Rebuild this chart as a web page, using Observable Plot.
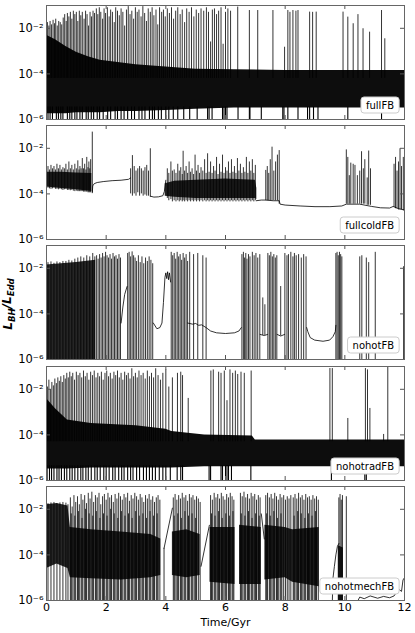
<!DOCTYPE html>
<html><head><meta charset="utf-8">
<script src="https://cdn.jsdelivr.net/npm/d3@7"></script>
<script src="https://cdn.jsdelivr.net/npm/@observablehq/plot@0.6"></script>
<style>
body{margin:0;background:#fff;}
#chart{position:relative;width:415px;height:633px;font-family:"DejaVu Sans",sans-serif;}
#chart svg{position:absolute;left:0;overflow:visible;}
</style></head><body><div id="chart"></div><script>
// ---------- categories / ticks ----------
const panels = ["fullFB","fullcoldFB","nohotFB","nohotradFB","nohotmechFB"];
const xTicks = [0,2,4,6,8,10,12];
const yTicks = [1e-6,1e-4,1e-2];
const xDomain = [0,12];
const yDomain = [1e-6,1e-1];
const xLabel = "Time/Gyr";

// ---------- data (time in Gyr, values as log10 L_BH/L_Edd) ----------
// fullFB
const fullFB_band = [[0,-5.75,-2.3],[0.3,-5.75,-2.5],[0.65,-5.75,-2.8],[1.0,-5.7,-3.05],[1.4,-5.7,-3.25],[1.8,-5.7,-3.4],[2.4,-5.65,-3.5],[3.0,-5.65,-3.6],[4.0,-5.6,-3.7],[5.0,-5.55,-3.8],[6.3,-5.5,-3.82],[8.0,-5.5,-3.85],[10.0,-5.5,-3.85],[12.0,-5.5,-3.85]];
const fullFB_upBase = -4.2;
const fullFB_up = [[0.03,-1.75],[0.08,-1.9],[0.12,-1.7],[0.17,-1.85],[0.22,-1.65],[0.27,-1.8],[0.31,-1.6],[0.36,-1.9],[0.41,-1.7],[0.46,-1.75],[0.51,-1.85],[0.56,-1.55],[0.61,-1.4],[0.66,-1.7],[0.70,-1.35],[0.75,-1.5],[0.80,-1.3],[0.85,-1.6],[0.90,-1.25],[0.95,-1.4],[1.00,-1.3],[1.05,-1.7],[1.10,-1.25],[1.15,-1.45],[1.20,-1.3],[1.26,-1.6],[1.31,-1.25],[1.36,-1.4],[1.41,-1.9],[1.46,-1.3],[1.51,-1.5],[1.56,-1.25],[1.61,-1.35],[1.67,-1.15],[1.72,-1.4],[1.77,-1.1],[1.82,-1.3],[1.88,-1.6],[1.93,-1.15],[1.98,-1.35],[2.04,-1.1],[2.10,-1.5],[2.15,-1.2],[2.21,-1.3],[2.27,-1.75],[2.32,-1.1],[2.38,-1.25],[2.44,-1.45],[2.50,-1.15],[2.56,-1.3],[2.62,-1.9],[2.68,-1.2],[2.74,-1.05],[2.80,-1.4],[2.86,-1.25],[2.92,-1.6],[2.98,-1.1],[3.04,-1.3],[3.10,-1.2],[3.17,-1.5],[3.23,-1.05],[3.29,-1.35],[3.35,-1.7],[3.41,-1.15],[3.48,-1.3],[3.54,-1.1],[3.60,-1.45],[3.67,-1.2],[3.73,-1.85],[3.79,-1.1],[3.86,-1.3],[3.92,-1.2],[3.98,-1.5],[4.05,-1.15],[4.12,-1.35],[4.19,-1.1],[4.26,-1.6],[4.33,-1.25],[4.40,-1.1],[4.48,-1.4],[4.55,-1.2],[4.63,-1.75],[4.70,-1.15],[4.78,-1.3],[4.86,-1.1],[4.94,-1.5],[5.02,-1.2],[5.10,-1.35],[5.18,-1.15],[5.27,-1.25],[5.36,-1.1],[5.43,-1.3],[5.50,-2.6],[5.56,-1.2],[5.63,-1.15],[5.70,-1.4],[5.77,-1.25],[5.85,-1.1],[5.92,-2.7],[6.00,-1.3],[6.08,-1.15],[6.17,-1.25],[6.41,-1.07],[6.80,-1.22],[7.08,-1.22],[7.59,-1.22],[7.98,-2.83],[8.09,-1.22],[8.16,-1.3],[8.26,-1.22],[8.36,-1.25],[8.43,-1.22],[8.82,-1.29],[8.92,-1.3],[9.04,-1.29],[9.94,-1.29],[10.10,-1.51],[10.28,-1.8],[10.44,-1.4],[10.61,-2.02],[10.83,-2.17],[11.23,-1.22],[11.34,-2.46]];
const fullFB_dipTop = -5.45;
const fullFB_dips = [0.05,0.12,0.2,0.33,0.4,0.48,0.55,0.7,0.78,0.85,0.95,1.02,1.12,1.2,1.33,1.4,1.5,1.58,1.7,1.78,1.9,2.05,2.15,2.3,2.38,2.5,2.6,2.72,2.85,2.95,3.1,3.2,3.3,3.45,3.55,3.62,3.75,3.85,4.0,4.1,4.25,4.4,4.6,4.8,5.05,5.4,5.45,5.55,5.9,5.95,6.0,6.05,6.42,6.8,6.82,7.2,7.92,7.96,8.09,8.43,8.75,8.82,8.95,9.1,10.1,11.23];

// fullcoldFB
const fullcoldFB_band = [[0,-3.7,-3.05],[0.5,-3.76,-3.05],[1.0,-3.82,-3.08],[1.52,-3.9,-3.1],null,[3.98,-4.1,-3.55],[4.3,-4.15,-3.45],[5.0,-4.2,-3.4],[6.0,-4.2,-3.35],[7.0,-4.2,-3.4],[7.05,-4.25,-3.75]];
const fullcoldFB_seg = [[0.05,-3.75,-2.8],[0.1,-3.78,-2.95],[0.15,-3.8,-2.75],[0.2,-3.78,-2.9],[0.25,-3.75,-2.8],[0.3,-3.8,-2.95],[0.35,-3.8,-2.7],[0.4,-3.82,-2.9],[0.45,-3.8,-2.75],[0.5,-3.82,-2.95],[0.55,-3.85,-2.85],[0.6,-3.82,-2.9],[0.65,-3.8,-2.7],[0.7,-3.85,-2.95],[0.75,-3.85,-2.6],[0.8,-3.86,-2.9],[0.85,-3.85,-2.75],[0.9,-3.88,-2.95],[0.95,-3.9,-2.7],[1.0,-3.88,-2.9],[1.05,-3.9,-2.55],[1.09,-3.9,-2.95],[1.12,-3.9,-2.8],[1.16,-3.9,-2.9],[1.2,-3.9,-2.45],[1.24,-3.92,-2.9],[1.28,-3.92,-2.7],[1.32,-3.92,-2.95],[1.35,-3.92,-2.4],[1.39,-3.95,-2.85],[1.42,-3.95,-2.6],[1.45,-3.95,-2.9],[1.48,-3.95,-2.5],[1.535,-3.95,-1.29],
[2.82,-4.0,-2.9],[2.88,-4.1,-2.32],[2.94,-4.0,-2.8],[3.0,-4.1,-3.0],[3.06,-3.95,-2.9],[3.12,-4.1,-2.8],[3.18,-4.0,-2.9],[3.24,-4.1,-3.0],[3.3,-4.05,-2.85],[3.36,-4.1,-2.75],[3.42,-4.1,-3.0],[3.48,-4.14,-2.02],
[4.05,-4.2,-2.9],[4.1,-4.3,-3.1],[4.17,-4.25,-2.6],[4.22,-4.35,-3.0],[4.28,-4.3,-2.95],[4.34,-4.35,-3.1],[4.4,-4.3,-2.7],[4.45,-4.35,-3.0],[4.5,-4.3,-2.85],[4.55,-4.35,-3.15],[4.58,-4.3,-2.13],[4.63,-4.35,-3.0],[4.68,-4.3,-2.8],[4.73,-4.35,-3.1],[4.78,-4.3,-2.6],[4.83,-4.35,-3.05],[4.88,-4.3,-2.9],[4.93,-4.35,-3.15],[4.98,-4.3,-2.3],[5.03,-4.35,-3.0],[5.08,-4.3,-2.75],[5.13,-4.35,-3.1],[5.18,-4.3,-2.85],[5.24,-4.35,-3.0],[5.3,-4.3,-2.5],[5.35,-4.35,-3.1],[5.4,-4.3,-2.24],[5.45,-4.35,-3.05],[5.5,-4.3,-2.6],[5.55,-4.35,-3.1],[5.6,-4.3,-2.8],[5.65,-4.35,-3.0],[5.7,-4.3,-2.4],[5.75,-4.35,-3.15],[5.8,-4.3,-2.7],[5.85,-4.35,-3.05],[5.9,-4.3,-2.3],[5.95,-4.35,-3.1],[6.0,-4.3,-2.85],[6.05,-4.35,-3.0],[6.1,-4.3,-2.6],[6.15,-4.35,-3.1],[6.2,-4.3,-2.5],[6.25,-4.35,-3.05],[6.3,-4.3,-2.8],[6.35,-4.35,-3.1],[6.4,-4.3,-2.45],[6.45,-4.35,-3.0],[6.5,-4.3,-2.7],[6.55,-4.35,-3.1],[6.6,-4.3,-2.85],[6.65,-4.35,-3.05],[6.7,-4.3,-2.4],[6.75,-4.35,-3.1],[6.8,-4.3,-2.6],[6.85,-4.35,-3.0],[6.9,-4.3,-2.5],[6.95,-4.35,-3.1],[7.0,-4.3,-2.75],
[7.35,-4.3,-2.97],[7.4,-4.3,-2.8],[7.45,-4.3,-3.1],[7.5,-4.3,-2.5],[7.56,-4.3,-1.95],[7.62,-4.3,-3.0],[7.68,-4.3,-2.6],[7.74,-4.3,-2.3],[7.8,-4.45,-2.1],
[10.05,-4.45,-2.07],[10.1,-4.45,-2.4],[10.15,-4.45,-3.2],[10.2,-4.45,-2.65],[10.28,-4.45,-2.7],[10.34,-4.45,-2.75],[10.42,-4.45,-3.2],[10.5,-4.45,-3.0],[10.56,-4.45,-2.15],[10.62,-4.45,-2.9],[10.67,-4.45,-2.5],[10.75,-4.5,-3.3],[10.8,-4.5,-2.12],[10.86,-4.5,-2.9],
[11.65,-4.6,-2.7],[11.7,-4.65,-2.4],[11.75,-4.65,-3.0],[11.8,-4.7,-2.6],[11.85,-4.7,-2.02],[11.9,-4.7,-2.8],[11.96,-4.75,-2.4]];
const fullcoldFB_line = [[1.535,-3.95],[1.55,-3.65],[1.6,-3.55],[1.7,-3.5],[1.9,-3.46],[2.2,-3.42],[2.5,-3.4],[2.75,-3.36],[2.82,-3.3],null,[3.48,-4.1],[3.6,-4.14],[3.75,-4.13],[3.9,-4.08],[3.95,-3.9],[4.0,-3.4],null,[7.03,-4.3],[7.2,-4.27],[7.35,-4.27],[7.6,-4.3],[7.8,-4.3],[7.83,-4.45],[8.0,-4.49],[8.5,-4.53],[9.0,-4.56],[9.5,-4.56],[9.9,-4.53],[10.05,-4.45],[10.5,-4.45],[10.9,-4.55],[11.2,-4.61],[11.5,-4.62],[11.62,-4.55],[11.8,-4.65],[12,-4.7]];

// nohotFB
const nohotFB_band = [[0,-6,-1.85],[0.5,-6,-1.8],[1.0,-6,-1.75],[1.65,-6,-1.65]];
const nohotFB_full = [[0.05,-1.75],[0.15,-1.72],[0.25,-1.78],[0.35,-1.72],[0.45,-1.75],[0.55,-1.7],[0.65,-1.7],[0.75,-1.65],[0.85,-1.68],[0.95,-1.6],[1.05,-1.55],[1.15,-1.5],[1.25,-1.55],[1.35,-1.45],[1.45,-1.5],[1.55,-1.35],[1.62,-1.5],
[1.68,-1.45],[1.73,-1.6],[1.78,-1.4],[1.83,-1.55],[1.88,-1.35],[1.93,-1.5],[1.98,-1.3],[2.03,-1.45],[2.08,-1.55],[2.13,-1.4],[2.18,-1.6],[2.23,-1.35],[2.28,-1.5],[2.33,-1.45],[2.38,-1.6],[2.43,-1.4],[2.48,-1.55],
[2.72,-1.35],[2.77,-1.3],[2.82,-1.5],[2.87,-1.28],[2.92,-1.45],[2.97,-1.55],[3.02,-1.7],[3.08,-1.45],[3.14,-1.75],[3.2,-1.5],[3.26,-1.8],[3.32,-1.55],[3.38,-1.7],[3.44,-1.5],[3.5,-1.65],[3.56,-1.8],
[4.18,-1.3],[4.23,-1.45],[4.28,-1.35],[4.33,-1.6],[4.38,-1.3],[4.43,-1.5],[4.48,-1.4],[4.53,-1.65],[4.58,-1.35],[4.63,-1.55],[4.68,-1.4],[4.73,-1.7],
[4.8,-1.3],[4.93,-1.4],[5.07,-1.35],[5.24,-1.45],[5.35,-1.55],
[6.55,-1.4],[6.6,-1.3],[6.64,-1.55],[6.68,-1.35],[6.72,-1.6],[6.77,-1.4],[6.82,-1.5],
[6.9,-1.3],[6.96,-1.45],[7.02,-1.35],[7.08,-1.55],[7.15,-1.4],
[7.42,-1.35],[7.47,-1.45],[7.52,-1.3],[7.57,-1.5],[7.62,-1.4],[7.67,-1.55],[7.72,-1.45],
[7.99,-1.35],[8.06,-1.45],[8.11,-1.4],[8.19,-1.3],[8.26,-1.5],[8.31,-1.35],[8.37,-1.45],[8.45,-1.4],[8.54,-1.55],[8.62,-1.4],[8.7,-1.5],
[9.7,-1.35],[9.74,-1.3],[9.78,-1.45],[9.82,-1.3],[9.86,-1.4],[9.9,-1.5],
[10.5,-1.5],[10.57,-1.45],[10.72,-1.55],[10.8,-1.75],[11.02,-1.3],[11.97,-1.93]];
const nohotFB_seg = [[7.25,-4.95,-3.3],[7.32,-4.95,-3.6],[7.85,-4.97,-2.8]];
const nohotFB_line = [[2.5,-4.4],[2.56,-3.7],[2.62,-3.15],[2.7,-2.8],null,[3.58,-4.4],[3.7,-4.65],[3.8,-4.6],[3.87,-4.4],[3.92,-3.5],[3.97,-2.4],[4.0,-2.2],[4.03,-2.45],[4.06,-2.15],[4.09,-2.5],[4.12,-2.2],[4.16,-2.6],null,[4.73,-4.4],[4.9,-4.45],[5.0,-4.42],[5.1,-4.5],[5.2,-4.48],[5.35,-4.6],[5.5,-4.75],[5.7,-4.83],[6.0,-4.86],[6.3,-4.83],[6.45,-4.75],[6.53,-4.6],null,[7.16,-4.9],[7.3,-4.95],[7.41,-4.9],null,[7.73,-4.9],[7.85,-4.97],[7.98,-4.9],null,[8.72,-4.6],[8.76,-4.78],[8.84,-5.04],[8.99,-5.15],[9.27,-5.2],[9.49,-5.15],[9.6,-5.0],[9.68,-4.78],[9.7,-4.5]];

// nohotradFB
const nohotradFB_band = [[0,-5.5,-2.4],[0.3,-5.5,-2.85],[0.7,-5.5,-3.35],[1.5,-5.45,-3.5],[3.0,-5.45,-3.6],[4.0,-5.45,-3.75],[4.2,-5.45,-3.85],[5.3,-5.4,-4.0],[6.9,-5.4,-4.05],[7.0,-5.4,-4.22],[12,-5.4,-4.22]];
const nohotradFB_upBase = -4.3;
const nohotradFB_up = [[0.03,-1.9],[0.08,-1.6],[0.13,-2.0],[0.18,-1.7],[0.23,-1.85],[0.28,-1.55],[0.33,-1.75],[0.38,-1.5],[0.43,-1.65],[0.48,-1.45],[0.53,-1.7],[0.58,-1.4],[0.63,-1.55],[0.68,-1.3],[0.73,-1.5],[0.78,-1.25],[0.83,-1.45],[0.88,-1.3],[0.94,-1.6],[1.0,-1.25],[1.06,-1.4],[1.12,-1.3],[1.18,-1.5],[1.24,-1.2],[1.3,-1.45],[1.36,-1.3],[1.42,-1.6],[1.48,-1.25],[1.54,-1.4],[1.6,-1.2],[1.66,-1.5],[1.72,-1.3],[1.78,-1.45],[1.84,-1.25],[1.9,-1.6],[1.96,-1.3],[2.02,-1.2],[2.08,-1.45],[2.14,-1.3],[2.2,-1.55],[2.26,-1.25],[2.32,-1.4],[2.38,-1.2],[2.44,-1.5],[2.5,-1.3],[2.56,-1.6],[2.62,-1.25],[2.68,-1.4],[2.74,-1.3],[2.8,-1.55],[2.86,-1.1],[2.92,-1.45],[2.98,-1.3],[3.04,-1.5],[3.1,-1.2],[3.17,-1.4],[3.24,-1.3],[3.31,-1.55],[3.38,-1.2],[3.45,-1.45],[3.52,-1.3],[3.59,-1.5],[3.66,-1.1],[3.74,-1.4],[3.82,-1.6],[3.9,-1.3],[4.0,-1.15],[4.1,-1.9],[4.22,-1.5],[4.39,-1.3],[4.5,-1.25],[4.56,-1.4],[4.75,-2.4],[5.51,-1.2],[5.59,-1.15],[5.77,-1.25],[5.85,-1.3],[5.96,-1.2],[6.05,-2.5],[6.15,-1.15],[6.24,-1.3],[6.33,-1.2],[6.41,-1.35],[6.52,-1.25],[6.63,-1.3],[6.86,-1.2],[9.5,-1.09],[9.58,-1.09],[10.1,-3.28],[10.69,-1.09],[10.76,-1.15],[10.84,-2.84],[11.3,-3.98],[11.44,-1.0]];
const nohotradFB_dipTop = -5.35;
const nohotradFB_dips = [0.02,0.1,0.17,0.25,0.35,0.42,0.5,0.6,0.68,0.78,0.86,0.95,1.05,1.15,1.22,1.32,1.4,1.5,1.62,1.7,1.8,1.92,2.0,2.1,2.22,2.3,2.42,2.52,2.6,2.72,2.82,2.9,3.02,3.12,3.25,3.35,3.45,3.55,3.65,3.78,3.9,4.0,4.15,4.38,4.5,4.56,5.45,5.5,5.85,5.9,6.0,6.05,6.1,6.2,6.85,9.55,10.67,10.72];

// nohotmechFB
const nohotmechFB_band = [[0,-4.6,-1.8],[0.35,-4.4,-1.75],[0.72,-4.6,-1.85],[0.8,-5.0,-2.8],[1.5,-5.05,-2.9],[2.5,-5.1,-3.0],[3.5,-5.0,-3.1],[3.83,-4.9,-3.3],null,[4.22,-4.9,-3.0],[4.7,-5.0,-2.9],[5.15,-4.9,-3.1],null,[5.48,-5.2,-2.8],[6.32,-5.3,-2.8],null,[6.47,-5.3,-2.7],[7.2,-5.3,-2.8],null,[7.32,-5.1,-2.7],[8.0,-5.0,-2.8],[8.25,-5.2,-2.9],[9.14,-5.4,-2.8],null,[9.78,-6,-3.6],[9.95,-6,-3.7]];
const nohotmechFB_full = [[0.05,-1.75],[0.15,-1.72],[0.25,-1.7],[0.35,-1.75],[0.45,-1.72],[0.55,-1.7],[0.65,-1.73],[0.72,-1.8],
[0.8,-1.5],[0.83,-2.2],[0.86,-1.9],[0.92,-1.4],[0.95,-2.3],[0.98,-1.7],[1.04,-1.45],[1.07,-2.1],[1.1,-1.8],[1.16,-1.35],[1.19,-2.4],[1.22,-1.6],[1.28,-1.4],[1.31,-2.0],[1.34,-1.75],[1.4,-1.3],[1.43,-2.2],[1.46,-1.55],[1.52,-1.25],[1.55,-2.3],[1.58,-1.7],[1.64,-1.4],[1.67,-2.1],[1.7,-1.5],[1.76,-1.3],[1.79,-2.4],[1.82,-1.8],[1.88,-1.45],[1.91,-2.2],[1.94,-1.35],[2.0,-1.6],[2.03,-2.3],[2.06,-1.3],[2.12,-1.5],[2.15,-2.0],[2.18,-1.4],[2.24,-1.7],[2.27,-2.2],[2.3,-1.35],[2.36,-1.55],[2.39,-2.4],[2.42,-1.3],[2.48,-1.45],[2.51,-2.1],[2.54,-1.6],[2.6,-1.35],[2.63,-2.3],[2.66,-1.5],[2.72,-1.3],[2.75,-2.2],[2.78,-1.65],[2.84,-1.4],[2.87,-2.4],[2.9,-1.55],[2.96,-1.3],[2.99,-2.1],[3.02,-1.45],[3.08,-1.6],[3.11,-2.3],[3.14,-1.35],[3.2,-1.5],[3.23,-2.2],[3.26,-1.7],[3.32,-1.4],[3.35,-2.4],[3.38,-1.55],[3.44,-1.35],[3.47,-2.1],[3.5,-1.6],[3.56,-1.45],[3.59,-2.3],[3.62,-1.7],[3.68,-1.5],[3.71,-2.2],[3.74,-1.4],[3.8,-1.6],
[3.94,-3.71],
[4.25,-1.5],[4.28,-2.3],[4.31,-1.35],[4.37,-1.6],[4.4,-2.2],[4.43,-1.4],[4.49,-1.55],[4.52,-2.4],[4.55,-1.3],[4.61,-1.5],[4.64,-2.1],[4.67,-1.4],[4.73,-1.65],[4.76,-2.3],[4.79,-1.35],[4.85,-1.5],[4.88,-2.2],[4.91,-1.4],[4.97,-1.6],[5.0,-2.4],[5.03,-1.45],[5.09,-1.55],[5.15,-1.7],
[5.5,-1.4],[5.53,-2.2],[5.56,-1.6],[5.62,-1.3],[5.65,-2.3],[5.68,-1.5],[5.74,-1.35],[5.77,-2.1],[5.8,-1.55],[5.86,-1.3],[5.89,-2.4],[5.92,-1.45],[5.98,-1.6],[6.01,-2.2],[6.04,-1.35],[6.1,-1.5],[6.13,-2.3],[6.16,-1.3],[6.22,-1.45],[6.25,-2.1],[6.28,-1.6],
[6.5,-1.3],[6.53,-2.2],[6.56,-1.45],[6.62,-1.25],[6.65,-2.3],[6.68,-1.5],[6.74,-1.35],[6.77,-2.1],[6.8,-1.55],[6.86,-1.3],[6.89,-2.4],[6.92,-1.45],[6.98,-1.35],[7.01,-2.2],[7.04,-1.6],[7.1,-1.4],[7.13,-2.3],[7.16,-1.5],
[7.35,-1.4],[7.38,-2.2],[7.41,-1.3],[7.47,-1.5],[7.5,-2.3],[7.53,-1.35],[7.59,-1.55],[7.62,-2.1],[7.65,-1.3],[7.71,-1.45],[7.74,-2.4],[7.77,-1.6],[7.83,-1.35],[7.86,-2.2],[7.89,-1.5],[7.95,-1.4],[8.01,-1.6],[8.07,-1.45],[8.13,-1.55],[8.19,-1.4],[8.27,-1.5],[8.3,-2.3],[8.33,-1.35],[8.39,-1.55],[8.42,-2.1],[8.45,-1.3],[8.51,-1.5],[8.54,-2.2],[8.57,-1.4],[8.63,-1.6],[8.66,-2.4],[8.69,-1.35],[8.75,-1.5],[8.78,-2.2],[8.81,-1.45],[8.87,-1.6],[8.9,-2.3],[8.93,-1.4],[8.99,-1.55],[9.02,-2.1],[9.05,-1.45],[9.11,-1.6],
[9.8,-1.5],[9.84,-1.35],[9.88,-1.6],[9.92,-1.4],[10.05,-1.45]];
const nohotmechFB_line = [[3.94,-3.71],[4.22,-1.95],null,[5.18,-4.5],[5.46,-2.7],null,[7.2,-2.2],[7.3,-3.3],null,[9.58,-6.1],[9.6,-5.05],[9.65,-4.5],[9.7,-4.0],[9.75,-3.63],[9.8,-3.5],null,[10.4,-6.1],[10.5,-5.85],[10.65,-5.92],[10.85,-5.8],[11.1,-5.9],[11.3,-5.82],[11.5,-5.88],[11.65,-5.8],[11.8,-5.5],[11.9,-5.6],[11.95,-5.1],[12,-5.0]];

// ---------- assemble ----------
const panelData = {
  fullFB:      {band: fullFB_band, up: fullFB_up, upBase: fullFB_upBase, dips: fullFB_dips, dipTop: fullFB_dipTop},
  fullcoldFB:  {band: fullcoldFB_band, seg: fullcoldFB_seg, line: fullcoldFB_line},
  nohotFB:     {band: nohotFB_band, full: nohotFB_full, seg: nohotFB_seg, line: nohotFB_line},
  nohotradFB:  {band: nohotradFB_band, up: nohotradFB_up, upBase: nohotradFB_upBase, dips: nohotradFB_dips, dipTop: nohotradFB_dipTop},
  nohotmechFB: {band: nohotmechFB_band, full: nohotmechFB_full, line: nohotmechFB_line}
};
const bandOpacity = {fullFB: 0.95, fullcoldFB: 0.85, nohotFB: 0.85, nohotradFB: 0.95, nohotmechFB: 0.85};

const W = 415, ML = 46, MR = 11, FH = 114, MT = 1;
const panelTops = [5, 125, 245, 366, 486];
const E = v => (v === null || v === undefined) ? NaN : Math.pow(10, v);
const SUP = {"-":"\u207B","0":"\u2070","1":"\u00B9","2":"\u00B2","3":"\u00B3","4":"\u2074","5":"\u2075","6":"\u2076","7":"\u2077","8":"\u2078","9":"\u2079"};
const fmtPow = d => "10" + String(Math.round(Math.log10(d))).split("").map(c => SUP[c]).join("");
const LINE_W = 0.8;

const chart = document.getElementById("chart");

panels.forEach((name, i) => {
  const d = panelData[name];
  const last = i === panels.length - 1;
  const MB = last ? 32 : 1;
  const marks = [];
  if (d.band) marks.push(Plot.areaY(d.band.map(r => r ? {t: r[0], lo: E(r[1]), hi: E(r[2])} : {t: NaN, lo: NaN, hi: NaN}),
    {x: "t", y1: "lo", y2: "hi", fill: "#000", fillOpacity: bandOpacity[name], clip: true}));
  if (d.dips) marks.push(Plot.ruleX(d.dips.map(t => ({t, a: yDomain[0], b: E(d.dipTop)})),
    {x: "t", y1: "a", y2: "b", stroke: "#000", strokeWidth: 1.1, clip: true}));
  if (d.up) marks.push(Plot.ruleX(d.up.map(r => ({t: r[0], a: E(d.upBase), b: E(r[1])})),
    {x: "t", y1: "a", y2: "b", stroke: "#000", strokeWidth: LINE_W, clip: true}));
  if (d.full) marks.push(Plot.ruleX(d.full.map(r => ({t: r[0], a: yDomain[0], b: E(r[1])})),
    {x: "t", y1: "a", y2: "b", stroke: "#000", strokeWidth: LINE_W, clip: true}));
  if (d.seg) marks.push(Plot.ruleX(d.seg.map(r => ({t: r[0], a: E(r[1]), b: E(r[2])})),
    {x: "t", y1: "a", y2: "b", stroke: "#000", strokeWidth: LINE_W, clip: true}));
  if (d.line) marks.push(Plot.line(d.line.map(r => r ? {t: r[0], v: E(r[1])} : {t: NaN, v: NaN}),
    {x: "t", y: "v", stroke: "#000", strokeWidth: LINE_W, clip: true}));
  // inward ticks on all four sides
  const tickStroke = "#555";
  marks.push(Plot.ruleX(xTicks, {x: t => t, insetTop: FH - 4, stroke: tickStroke}));
  marks.push(Plot.ruleX(xTicks, {x: t => t, insetBottom: FH - 4, stroke: tickStroke}));
  marks.push(Plot.ruleY(yTicks, {y: v => v, insetRight: (W - ML - MR) - 4, stroke: tickStroke}));
  marks.push(Plot.ruleY(yTicks, {y: v => v, insetLeft: (W - ML - MR) - 4, stroke: tickStroke}));
  marks.push(Plot.frame({stroke: "#666", strokeWidth: 1}));
  if (last) marks.push(Plot.text([xLabel], {frameAnchor: "bottom", text: t => t, lineAnchor: "top", dy: 18, fontSize: 11, fill: "#000"}));

  const svg = Plot.plot({
    width: W, height: MT + FH + MB,
    marginLeft: ML, marginRight: MR, marginTop: MT, marginBottom: MB,
    style: {background: "transparent", fontFamily: "DejaVu Sans, sans-serif", fontSize: "11px", color: "#000", overflow: "visible"},
    x: {domain: xDomain, ticks: xTicks, tickFormat: t => String(t), tickSize: 0, tickPadding: 3, label: null, axis: last ? "bottom" : null},
    y: {type: "log", domain: yDomain, ticks: yTicks, tickFormat: fmtPow, tickSize: 0, tickPadding: 3, label: null},
    marks
  });
  svg.style.top = (panelTops[i] - MT) + "px";
  chart.appendChild(svg);
  // slightly larger y tick labels, as in the reference
  d3.select(svg).selectAll('[aria-label="y-axis tick label"] text, g[aria-label="y-axis"] text').style("font-size", "11.5px");

  // legend box (lower right)
  const g = d3.select(svg).append("g");
  const rect = g.append("rect");
  const txt = g.append("text")
    .attr("x", W - MR - 10).attr("y", MT + FH - 6 - 8)
    .attr("text-anchor", "end").attr("dominant-baseline", "central")
    .style("font-family", "DejaVu Sans, sans-serif").style("font-size", "10px").attr("fill", "#000")
    .text(name);
  const bb = txt.node().getBBox();
  rect.attr("x", bb.x - 5).attr("y", MT + FH - 6 - 16).attr("width", bb.width + 10).attr("height", 16)
    .attr("rx", 3).attr("fill", "#fff").attr("stroke", "#ccc").attr("stroke-width", 1);

  // shared y-axis title on the middle panel
  if (i === 2) {
    const yt = d3.select(svg).append("text")
      .attr("transform", `translate(12, ${304 - panelTops[i] + MT}) rotate(-90)`)
      .attr("text-anchor", "middle")
      .style("font-family", "DejaVu Sans, sans-serif").style("font-size", "12px")
      .style("font-style", "italic").style("font-weight", "bold").attr("fill", "#000");
    yt.append("tspan").text("L");
    yt.append("tspan").attr("dy", "0.3em").style("font-size", "8.5px").text("BH");
    yt.append("tspan").attr("dy", "-0.3em").text("/L");
    yt.append("tspan").attr("dy", "0.3em").style("font-size", "8.5px").text("Edd");
  }
});
</script></body></html>
